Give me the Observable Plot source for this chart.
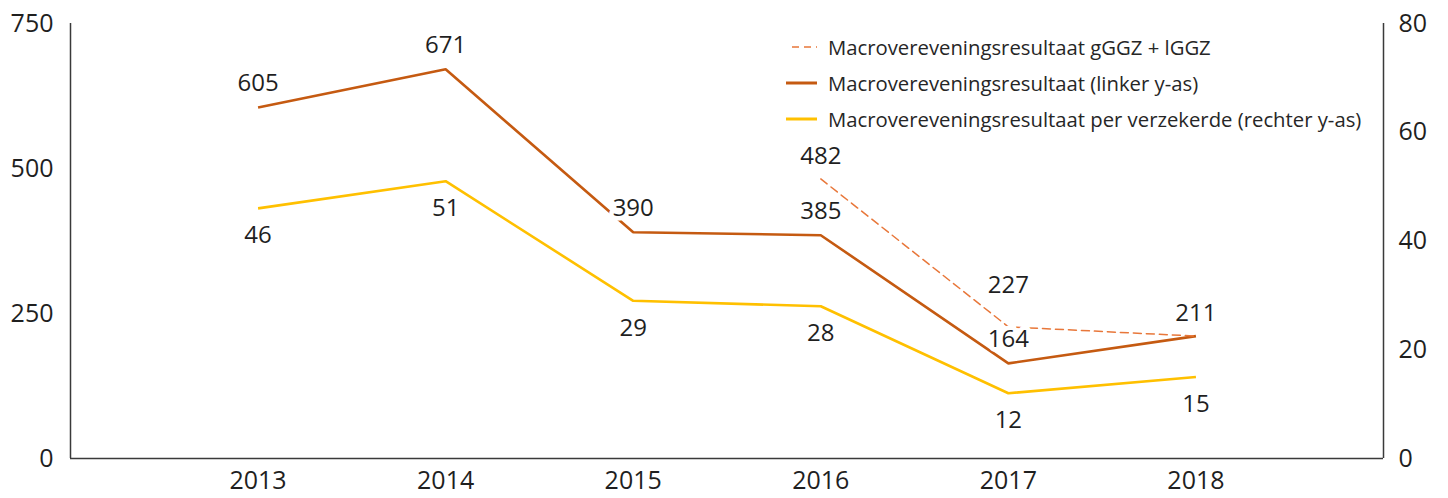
<!DOCTYPE html>
<html>
<head>
<meta charset="utf-8">
<script src="https://cdn.jsdelivr.net/npm/d3@7"></script>
<script src="https://cdn.jsdelivr.net/npm/@observablehq/plot@0.6"></script>
<style>
  html, body { margin: 0; padding: 0; background: #fff; }
  #wrap { position: relative; width: 1448px; height: 498px; font-family: "Open Sans", sans-serif; }
  #legend { position: absolute; left: 786px; top: 29px; font-size: 20.3px; color: #262626; }
  .row { height: 36px; display: flex; align-items: center; white-space: nowrap; }
  .row svg { margin-right: 10px; flex: none; }
</style>
</head>
<body>
<div id="wrap"><div id="legend"></div></div>
<script>
// ---- data ----
const years = [2013, 2014, 2015, 2016, 2017, 2018];
const resultaat = [605, 671, 390, 385, 164, 211];            // linker y-as
const ggzYears = [2016, 2017, 2018];
const ggzResultaat = [482, 227, 211];                         // gGGZ + lGGZ
const perVerzekerde = [46, 51, 29, 28, 12, 15];               // rechter y-as
const leftTicks = [0, 250, 500, 750];
const rightTicks = [0, 20, 40, 60, 80];
const seriesNames = [
  "Macrovereveningsresultaat gGGZ + lGGZ",
  "Macrovereveningsresultaat (linker y-as)",
  "Macrovereveningsresultaat per verzekerde (rechter y-as)"
];
const colors = ["#E8773A", "#C55A11", "#FFC000"];

const leftMax = 750, rightMax = 80, k = leftMax / rightMax;

const main = years.map((year, i) => ({year, value: resultaat[i]}));
const ggz = ggzYears.map((year, i) => ({year, value: ggzResultaat[i]}));
const perV = years.map((year, i) => ({year, value: perVerzekerde[i], scaled: perVerzekerde[i] * k}));

const textColor = "#1f1f1f";
const labelFont = 24;

const chart = Plot.plot({
  width: 1448,
  height: 498,
  marginLeft: 70,
  marginRight: 65,
  marginTop: 23,
  marginBottom: 40,
  style: {fontFamily: "'Open Sans', sans-serif", color: textColor, background: "transparent"},
  x: {type: "linear", domain: [2012, 2019]},
  y: {domain: [0, leftMax]},
  marks: [
    Plot.axisX({ticks: years, tickFormat: d => String(d), tickSize: 0, tickPadding: 13, fontSize: 25, label: null}),
    Plot.axisY({ticks: leftTicks, tickSize: 0, tickPadding: 17, fontSize: 25, anchor: "left", label: null}),
    Plot.axisY({ticks: rightTicks.map(v => v * k), tickFormat: v => String(Math.round(v / k)), tickSize: 0, tickPadding: 15, fontSize: 25, anchor: "right", label: null}),
    Plot.ruleX([2012, 2019], {stroke: "#3a3a3a", strokeWidth: 1.5}),
    Plot.ruleY([0], {stroke: "#3a3a3a", strokeWidth: 1.5}),
    Plot.line(perV, {x: "year", y: "scaled", stroke: colors[2], strokeWidth: 2.6, strokeLinejoin: "miter", strokeLinecap: "butt"}),
    Plot.line(main, {x: "year", y: "value", stroke: colors[1], strokeWidth: 2.6, strokeLinejoin: "miter", strokeLinecap: "butt"}),
    Plot.line(ggz, {x: "year", y: "value", stroke: colors[0], strokeWidth: 1.5, strokeDasharray: "8,5"}),
    Plot.text(perV, {x: "year", y: "scaled", text: d => String(d.value), dy: 27, fontSize: labelFont, fill: textColor, stroke: "white", strokeWidth: 9}),
    Plot.text(main, {x: "year", y: "value", text: d => String(d.value), dy: -24, fontSize: labelFont, fill: textColor, stroke: "white", strokeWidth: 9}),
    Plot.text(ggz.filter(d => d.year !== 2017), {x: "year", y: "value", text: d => String(d.value), dy: -23, fontSize: labelFont, fill: textColor, stroke: "white", strokeWidth: 9}),
    Plot.text(ggz.filter(d => d.year === 2017), {x: "year", y: "value", text: d => String(d.value), dy: -42, fontSize: labelFont, fill: textColor, stroke: "white", strokeWidth: 9})
  ]
});

const wrap = document.getElementById("wrap");
wrap.insertBefore(chart, wrap.firstChild);

const legend = document.getElementById("legend");
seriesNames.forEach((name, i) => {
  const row = document.createElement("div");
  row.className = "row";
  const dash = i === 0 ? 'stroke-dasharray="7,5"' : "";
  const sw = i === 0 ? 1.5 : 3;
  const x1 = i === 0 ? 6 : 0;
  row.innerHTML = `<svg width="32" height="10"><line x1="${x1}" y1="5" x2="31" y2="5" stroke="${colors[i]}" stroke-width="${sw}" ${dash}/></svg><span>${name}</span>`;
  legend.appendChild(row);
});
</script>
</body>
</html>
